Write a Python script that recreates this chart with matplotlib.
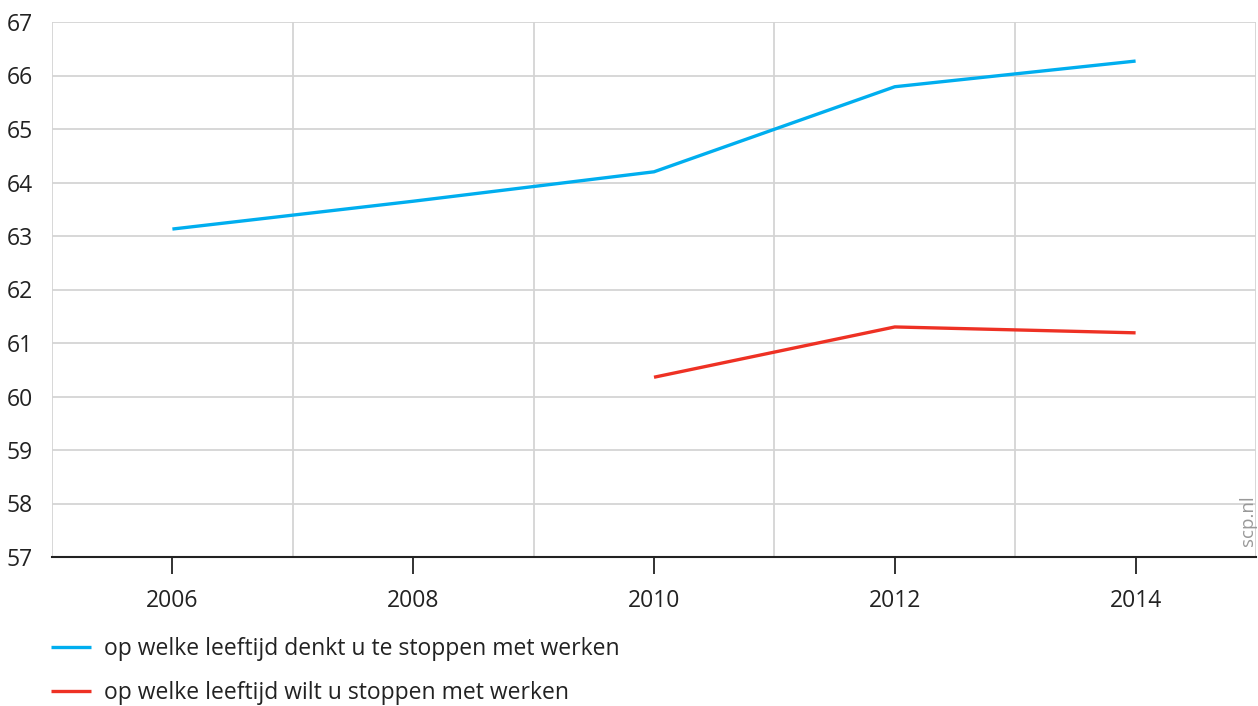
import matplotlib
matplotlib.use("Agg")
import matplotlib.pyplot as plt

years_blue = [2006, 2008, 2010, 2012, 2014]
denkt = [63.13, 63.65, 64.2, 65.79, 66.27]
years_red = [2010, 2012, 2014]
wilt = [60.36, 61.3, 61.19]
label_blue = "op welke leeftijd denkt u te stoppen met werken"
label_red = "op welke leeftijd wilt u stoppen met werken"
xticks = [2006, 2008, 2010, 2012, 2014]
xgrid = [2005, 2007, 2009, 2011, 2013, 2015]
yticks = list(range(57, 68))

plt.rcParams['font.family'] = ['Open Sans', 'DejaVu Sans']

W, H = 1258, 706
fig = plt.figure(figsize=(W/100, H/100), dpi=100)
ax = fig.add_axes([52/W, 1-557/H, (1256-52)/W, (557-22)/H])

ax.plot(years_blue, denkt, color='#00AEEF', lw=2.4, label=label_blue, solid_capstyle='butt')
ax.plot(years_red, wilt, color='#EE3124', lw=2.4, label=label_red, solid_capstyle='butt')

ax.set_xlim(2005, 2015)
ax.set_ylim(57, 67)
ax.set_xticks(xticks)
ax.set_xticks(xgrid, minor=True)
ax.set_yticks(yticks)
ax.grid(True, which='minor', axis='x', color='#d4d4d4', lw=1.3)
ax.grid(False, which='major', axis='x')
ax.grid(True, which='major', axis='y', color='#d4d4d4', lw=1.3)
ax.set_axisbelow(True)
for s in ['top', 'right', 'left']:
    ax.spines[s].set_visible(False)
ax.spines['bottom'].set_color('#222222')
ax.spines['bottom'].set_linewidth(1.5)
ax.tick_params(axis='x', which='major', length=12, width=1.3, color='#222222', pad=11,
               labelsize=16.5, labelcolor='#222222')
ax.tick_params(axis='x', which='minor', length=0)
ax.tick_params(axis='y', length=0, pad=14, labelsize=16.5, labelcolor='#222222')

ax.text(2014.93, 57.2, 'scp.nl', rotation=90, ha='center', va='bottom',
        fontsize=13.5, color='#999999')

fig.legend(loc='upper left', bbox_to_anchor=(42/W, 1-628/H), frameon=False,
           fontsize=16.5, handlelength=1.75, handletextpad=0.55, labelspacing=0.85,
           labelcolor='#222222', borderaxespad=0)

fig.savefig('out.png', dpi=100)
